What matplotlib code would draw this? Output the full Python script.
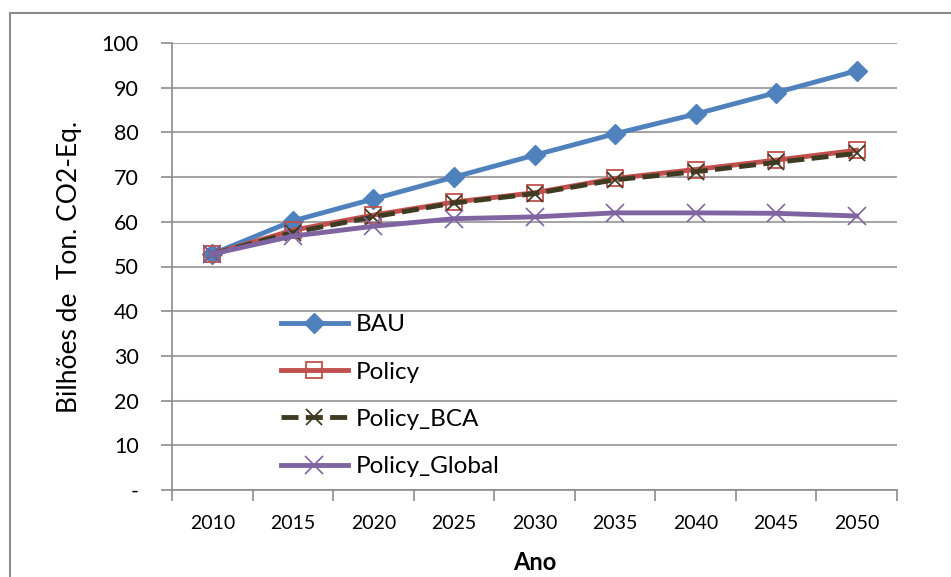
import matplotlib.pyplot as plt
from matplotlib.patches import Rectangle

# emissões por cenário (bilhões de t CO2-eq)
anos = ['2010', '2015', '2020', '2025', '2030', '2035', '2040', '2045', '2050']
bau = [52.8, 60.2, 65.1, 70.0, 74.9, 79.7, 84.1, 88.9, 93.8]
policy = [52.8, 58.1, 61.5, 64.4, 66.5, 69.7, 71.7, 73.8, 76.0]
policy_bca = [52.8, 57.6, 61.1, 64.2, 66.3, 69.4, 71.2, 73.3, 75.3]
policy_global = [52.8, 56.8, 59.0, 60.7, 61.1, 62.0, 62.0, 61.9, 61.3]
yticks = [0, 10, 20, 30, 40, 50, 60, 70, 80, 90, 100]
ylabels = ['-', '10', '20', '30', '40', '50', '60', '70', '80', '90', '100']

plt.rcParams['font.family'] = ['Lato', 'DejaVu Sans']

fig = plt.figure(figsize=(9.51, 5.77), dpi=100)
ax = fig.add_axes([172 / 951, 1 - 490 / 577, 725 / 951, 447 / 577])

# moldura externa do gráfico
fig.patches.append(Rectangle((10 / 951, -0.1), 1.2, 1 - 13 / 577 + 0.1,
                             transform=fig.transFigure, fill=False,
                             edgecolor='#8c8c8c', linewidth=1.5))

x = list(range(len(anos)))
ax.plot(x, bau, color='#4F81BD', linewidth=3.5, marker='D', markersize=10,
        label='BAU', zorder=3)
ax.plot(x, policy, color='#C0504D', linewidth=3.5, marker='s', markersize=12,
        markerfacecolor='none', markeredgecolor='#C0504D', markeredgewidth=1.3,
        label='Policy', zorder=4)
ax.plot(x, policy_bca, color='#3F3B22', linewidth=3.5, linestyle=(0, (3.5, 1.5)),
        marker='x', markersize=11, markeredgewidth=1.3, label='Policy_BCA', zorder=5)
ax.plot(x, policy_global, color='#8064A2', linewidth=3.5, marker='x',
        markersize=13, markeredgewidth=1.2, label='Policy_Global', zorder=6)

ax.set_xlim(-0.5, len(anos) - 0.5)
ax.set_ylim(0, 100)
ax.set_yticks(yticks)
ax.set_yticklabels(ylabels, fontsize=15.5)
ax.set_xticks([i + 0.5 for i in range(-1, len(anos))])
ax.set_xticklabels([])
ax.set_xticks(x, minor=True)
ax.set_xticklabels(anos, minor=True, fontsize=14)
ax.tick_params(axis='x', which='minor', length=0, pad=18)
ax.tick_params(axis='x', which='major', direction='out', length=8,
               color='#8c8c8c', width=1.2)
ax.tick_params(axis='y', direction='out', length=8, color='#8c8c8c',
               width=1.2, pad=16)

ax.grid(axis='y', color='#a6a6a6', linewidth=1.5)
ax.set_axisbelow(True)
for s in ['top', 'right']:
    ax.spines[s].set_visible(False)
for s in ['left', 'bottom']:
    ax.spines[s].set_color('#8c8c8c')
    ax.spines[s].set_linewidth(1.2)

ax.set_xlabel('Ano', fontsize=17, fontweight='bold', labelpad=14)
ax.set_ylabel('Bilhões de  Ton. CO2-Eq.', fontsize=19, labelpad=14)

ax.legend(loc='lower left', bbox_to_anchor=(0.12, -0.02), frameon=False,
          fontsize=17.5, handlelength=2.75, labelspacing=1.08, handletextpad=0.35)

plt.savefig('out.png', dpi=100)
